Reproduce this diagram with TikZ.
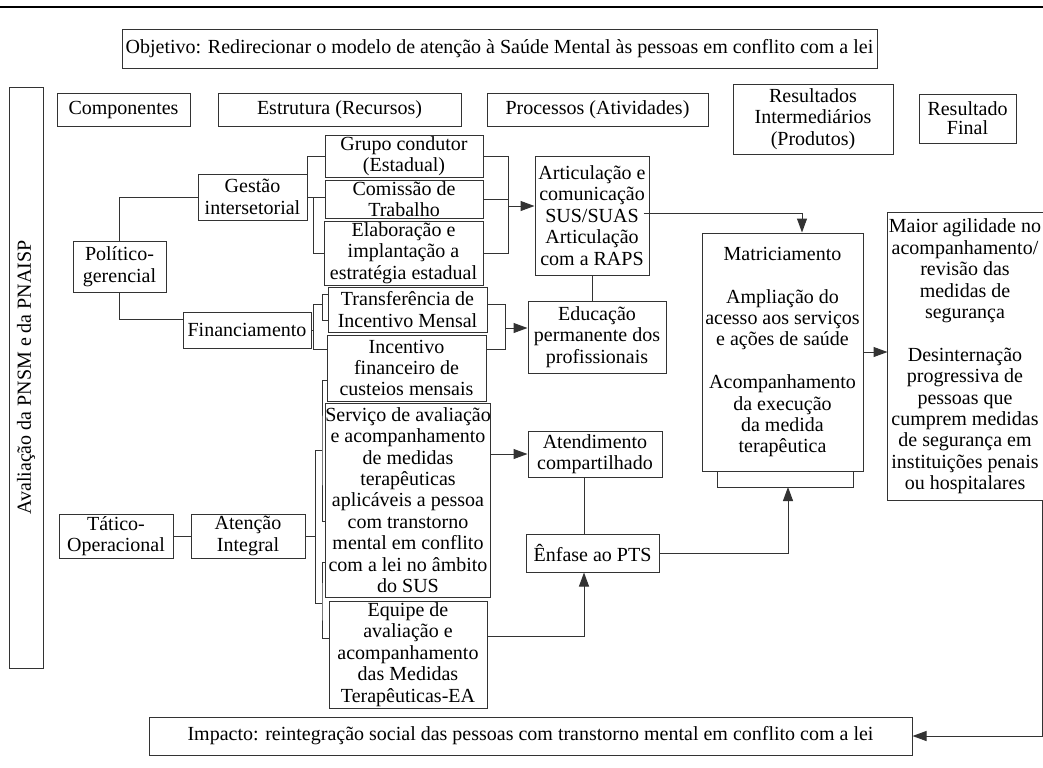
\documentclass[tikz,border=0pt]{standalone}
\usepackage{fontspec}
\setmainfont{Liberation Serif}
\usetikzlibrary{arrows.meta,calc}

\begin{document}
\begin{tikzpicture}[x=0.5pt,y=-0.5pt,
  box/.style={draw=black!80,line width=0.5pt,inner sep=0pt,align=center,
    font=\fontsize{10}{10.7}\selectfont},
  sz/.style 2 args={minimum width=#1*0.5pt,minimum height=#2*0.5pt},
  ln/.style={draw=black!80,line width=0.5pt},
  arr/.style={ln,-{Triangle[length=7pt,width=5pt]}}]
\useasboundingbox (0,0) rectangle (1043,767);
\clip (0,0) rectangle (1043,767);
\draw[line width=0.8pt] (0,7) -- (1043,7);

% objetivo e cabecalhos
\node[box,sz={755}{39}] (obj) at (499.5,48.5) {Objetivo: Redirecionar o modelo de atenção à Saúde Mental às pessoas em conflito com a lei};
\node[box,rotate=90,sz={581}{34}] (ava) at (26,377.5) {Avaliação da PNSM e da PNAISP};
\node[box,sz={133}{33}] (com) at (123.5,109.5) {Componentes};
\node[box,sz={243}{33}] (est) at (339.5,109.5) {Estrutura (Recursos)};
\node[box,sz={221}{33}] (pro) at (597.5,109.5) {Processos (Atividades)};
\node[box,sz={160}{70}] (rin) at (813,119) {Resultados\\Intermediários\\(Produtos)};
\node[box,sz={97}{49},font=\fontsize{10}{9.5}\selectfont] (rfi) at (967.5,118.5) {Resultado\\Final};

% componentes
\node[box,sz={93}{51}] (pol) at (119.5,266.5) {Político-\\gerencial};
\node[box,sz={109}{46}] (ges) at (252.5,197) {Gestão\\intersetorial};
\node[box,sz={128}{36}] (fin) at (247,330) {Financiamento};
\node[box,sz={114}{44}] (tat) at (116,536) {Tático-\\Operacional};
\node[box,sz={114}{44}] (aten) at (248,536) {Atenção\\Integral};

% estrutura
\node[box,sz={158}{42}] (gru) at (404,156) {Grupo condutor\\(Estadual)};
\node[box,sz={158}{38}] (cms) at (404,199) {Comissão de\\Trabalho};
\node[box,sz={159}{64}] (ela) at (403.5,253) {Elaboração e\\implantação a\\estratégia estadual};
\node[box,sz={159}{45}] (tra) at (407.5,309.5) {Transferência de\\Incentivo Mensal};
\node[box,sz={159}{66}] (inc) at (406.5,368) {Incentivo\\financeiro de\\custeios mensais};
\node[box,sz={162}{194}] (ser) at (408,500) {Serviço de avaliação\\e acompanhamento\\de medidas\\terapêuticas\\aplicáveis a pessoa\\com transtorno\\mental em conflito\\com a lei no âmbito\\do SUS};
\node[box,sz={158}{107}] (equ) at (408,654.5) {Equipe de\\avaliação e\\acompanhamento\\das Medidas\\Terapêuticas-EA};

% processos
\node[box,sz={114}{119}] (art) at (592,215.5) {Articulação e\\comunicação\\SUS/SUAS\\Articulação\\com a RAPS};
\node[box,sz={138}{72}] (edu) at (597,337) {Educação\\permanente dos\\profissionais};
\node[box,sz={134}{46}] (ate) at (595,454) {Atendimento\\compartilhado};
\node[box,sz={133}{38}] (enf) at (592.5,553) {Ênfase ao PTS};

% resultados
\node[box,sz={161}{238}] (mat) at (782.5,352) {Matriciamento\\[10.7pt]Ampliação do\\acesso aos serviços\\e ações de saúde\\[10.7pt]Acompanhamento\\da execução\\da medida\\terapêutica};
\node[box,draw=none,sz={154}{287}] (mai) at (965,356.5) {Maior agilidade no\\acompanhamento/\\revisão das\\medidas de\\segurança\\[10.7pt]Desinternação\\progressiva de\\pessoas que\\cumprem medidas\\de segurança em\\instituições penais\\ou hospitalares};
\draw[ln] (mai.north west) rectangle ($(mai.south east)+(10,0)$);
\node[box,sz={763}{38}] (imp) at (530.5,736) {Impacto: reintegração social das pessoas com transtorno mental em conflito com a lei};

% ligacoes politico-gerencial
\draw[ln] (pol.north) |- (ges.west);
\draw[ln] (pol.south) |- ($(fin.west)+(0,-11)$);
\draw[ln] (ges.north east) |- (gru.west);
\draw[ln] (ges.east) -- (ges.east -| cms.west);
\draw[ln] ($(ges.east)+(6,0)$) |- (ela.west);
\coordinate (bka) at (508,206);
\draw[ln] (gru.east) -| (bka |- ela.east) -- (ela.east);
\draw[ln] (cms.east) -- (cms.east -| bka);
\draw[arr] (bka) -- (bka -| art.west);
\draw[ln] (art.south) -- (art.south |- edu.north);

% financiamento
\coordinate (bkf) at (313,304);
\draw[ln] (fin.east) -- (fin.east -| bkf);
\draw[ln] (bkf) -- ++(10,0);
\draw[ln] (bkf) |- ($(inc.west)+(0,-19)$);
\draw[ln] ($(tra.west)+(0,-15)$) -| ++(-5,26) -- ++(5,0);
\coordinate (bke) at (505,328);
\draw[ln] ($(tra.east)+(0,-5)$) -| ($(bke)+(0,21)$) -- ($(inc.east)+(0,-19)$);
\draw[arr] (bke) -- (bke -| edu.west);
\draw[arr] ($(art.east)+(-6,-2.5)$) -| ($(mat.north)+(19.5,0)$);

% tatico-operacional
\draw[ln] (tat) -- (aten);
\coordinate (t1) at (315,450);
\coordinate (t2) at (315,603);
\draw[ln] (aten.east) -- (aten.east -| t1);
\draw[ln] (t1) -- (t2);
\draw[ln] (t1) -- ++(7,0) coordinate (t3);
\draw[ln] ($(inc.west)+(0,12)$) -| (t3) |- ($(ser.west)+(0,21)$);
\draw[ln] (t2) -- ++(7,0) coordinate (t4);
\draw[ln] ($(ser.west)+(0,62)$) -| (t4) |- ($(equ.west)+(0,-16.5)$);
\draw[arr] (ate.west -| ser.east) -- (ate.west);
\draw[ln] ($(ate.south)+(-11,0)$) -- ($(enf.north)+(-8.5,0)$);
\draw[arr] ($(equ.east)+(0,-18.5)$) -| ($(enf.south)+(-8.5,0)$);

% resultados
\coordinate (bkm) at (788,487);
\draw[arr] (enf.east) -| (bkm);
\draw[ln] ($(mat.south west)+(16,0)$) |- (bkm) -| ($(mat.south east)+(-10,0)$);
\draw[arr] (mat.east) -- (mat.east -| mai.west);
\draw[arr] (mai.south east) |- (imp.east);
\end{tikzpicture}
\end{document}
